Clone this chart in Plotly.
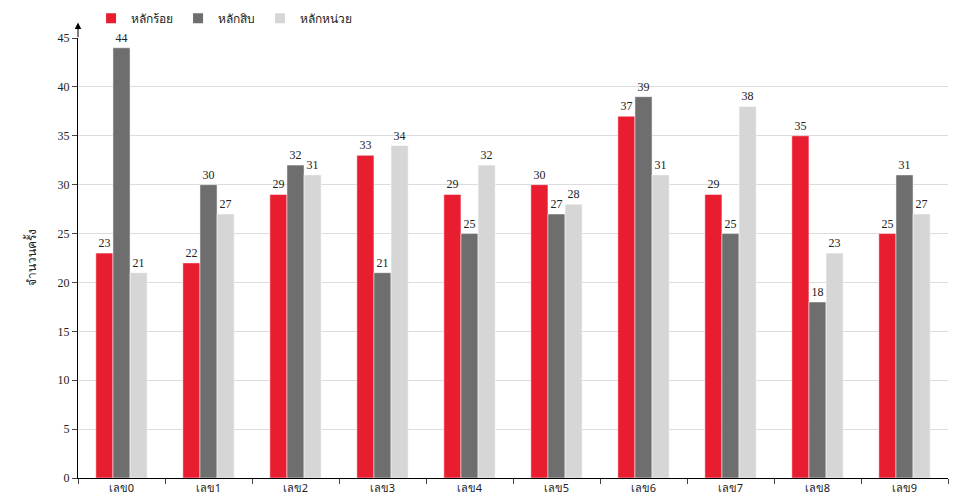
import plotly.graph_objects as go

categories = ["เลข0", "เลข1", "เลข2", "เลข3", "เลข4", "เลข5", "เลข6", "เลข7", "เลข8", "เลข9"]
hundreds = [23, 22, 29, 33, 29, 30, 37, 29, 35, 25]
tens = [44, 30, 32, 21, 25, 27, 39, 25, 18, 31]
units = [21, 27, 31, 34, 32, 28, 31, 38, 23, 27]
series = [("หลักร้อย", hundreds, "#e81e30"), ("หลักสิบ", tens, "#6e6e6e"), ("หลักหน่วย", units, "#d6d6d6")]

fig = go.Figure()
for name, vals, color in series:
    fig.add_trace(go.Bar(x=categories, y=vals, name=name, marker=dict(color=color, line=dict(color="white", width=0.5)),
                         text=vals, textposition="outside", cliponaxis=False,
                         textfont=dict(family="Liberation Serif", size=12, color="#222")))

fig.update_layout(
    width=960, height=500, plot_bgcolor="white", paper_bgcolor="white",
    margin=dict(l=70, r=20, t=30, b=30, autoexpand=False), bargap=0.41, bargroupgap=0,
    font=dict(family="Noto Sans", size=11, color="#222"),
    legend=dict(orientation="h", x=0.015, y=1.045, xanchor="left", yanchor="middle",
                font=dict(size=12), itemwidth=30, traceorder="normal", itemsizing="constant"),
    xaxis=dict(showline=True, linecolor="#000", ticks="outside", tickson="boundaries", ticklen=5,
               tickfont=dict(size=11)),
    yaxis=dict(range=[0, 45], dtick=5, showgrid=True, gridcolor="#dcdcdc", showline=True, linecolor="#000",
               ticks="outside", ticklen=5, zeroline=False,
               tickfont=dict(family="Liberation Serif", size=12),
               title=dict(text="จำนวนครั้ง", font=dict(size=12), standoff=18)),
    annotations=[dict(xref="paper", yref="paper", x=0, y=1.035, ax=0, ay=16, axref="pixel", ayref="pixel",
                      showarrow=True, arrowhead=2, arrowsize=1.3, arrowwidth=1, arrowcolor="#000", text="",
                      standoff=0, startstandoff=0)],
)
fig.write_html("out.html")
